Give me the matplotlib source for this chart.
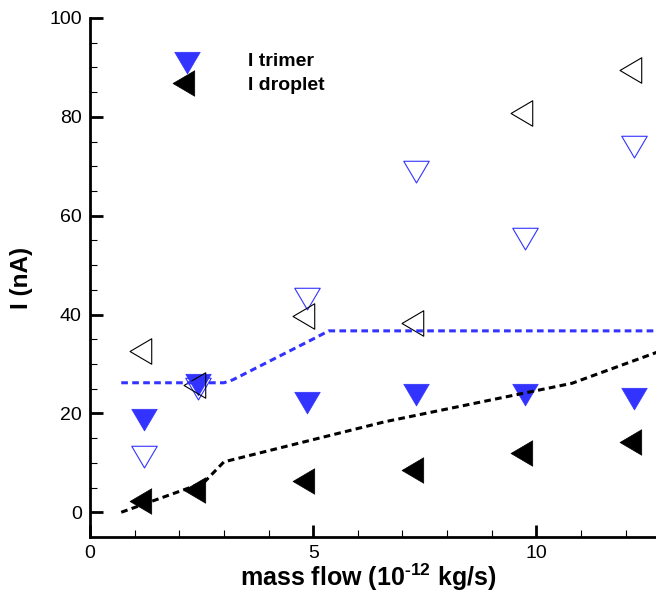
import matplotlib

matplotlib.use("Agg")

import matplotlib.pyplot as plt
from matplotlib.lines import Line2D
from matplotlib.path import Path
from matplotlib.ticker import MultipleLocator

plt.rcParams["font.family"] = ["Liberation Sans", "DejaVu Sans"]
plt.rcParams["mathtext.default"] = "regular"
plt.rcParams["lines.scale_dashes"] = False

BLUE = "#3333ff"

# measured points (x in 1e-12 kg/s, y in nA)
mass_flow = [1.2, 2.42, 4.86, 7.3, 9.74, 12.18]
trimer_filled = [19.5, 26.5, 23.0, 24.6, 24.6, 23.7]
trimer_open = [11.9, 25.8, 43.9, 69.7, 56.1, 74.7]
droplet_filled = [2.3, 4.5, 6.3, 8.6, 11.9, 14.2]
droplet_open = [32.6, 25.8, 39.7, 38.3, 80.7, 89.5]

# model curves
trimer_fit_x = [0.7, 3.0, 3.2, 4.9, 5.35, 12.8]
trimer_fit_y = [26.2, 26.2, 26.8, 34.6, 36.7, 36.7]
droplet_fit_x = [0.7, 2.55, 3.0, 6.6, 10.8, 12.8]
droplet_fit_y = [0.0, 6.0, 10.2, 18.3, 26.1, 32.7]

legend_labels = ["I trimer", "I droplet"]


def centroid_triangle(direction: str) -> Path:
    # triangle centred on its centroid, like the original plotting package
    w, h = 1.0, 0.85
    if direction == "down":
        verts = [(-w / 2, h / 3), (w / 2, h / 3), (0, -2 * h / 3), (-w / 2, h / 3)]
    else:
        verts = [(-2 * h / 3, 0), (h / 3, w / 2), (h / 3, -w / 2), (-2 * h / 3, 0)]
    return Path(verts, [Path.MOVETO, Path.LINETO, Path.LINETO, Path.CLOSEPOLY])


TRI_DOWN = centroid_triangle("down")
TRI_LEFT = centroid_triangle("left")
MS = 20.8

fig = plt.figure(figsize=(6.56, 5.94), dpi=100)
ax = fig.add_axes([0.1372, 0.0960, 0.8628, 0.8737])

ax.plot(mass_flow, trimer_filled, ls="none", marker=TRI_DOWN, ms=MS, mfc=BLUE, mec=BLUE, mew=0.5, zorder=3)
ax.plot(mass_flow, droplet_filled, ls="none", marker=TRI_LEFT, ms=MS, mfc="black", mec="black", mew=0.5, zorder=3)
ax.plot(mass_flow, trimer_open, ls="none", marker=TRI_DOWN, ms=MS, mfc="none", mec=BLUE, mew=0.8, zorder=3)
ax.plot(mass_flow, droplet_open, ls="none", marker=TRI_LEFT, ms=MS, mfc="none", mec="black", mew=0.8, zorder=3)

ax.plot(trimer_fit_x, trimer_fit_y, color=BLUE, lw=2.2, dashes=(4.8, 3.1), zorder=4)
ax.plot(droplet_fit_x, droplet_fit_y, color="black", lw=2.2, dashes=(4.8, 3.1), zorder=4)

ax.set_xlim(0, 12.68)
ax.set_ylim(-5, 100)
ax.xaxis.set_major_locator(MultipleLocator(5))
ax.xaxis.set_minor_locator(MultipleLocator(1))
ax.yaxis.set_major_locator(MultipleLocator(20))
ax.yaxis.set_minor_locator(MultipleLocator(5))

for side in ("top", "right"):
    ax.spines[side].set_visible(False)
for side in ("left", "bottom"):
    ax.spines[side].set_linewidth(2)

ax.tick_params(which="major", direction="in", length=9, width=2, labelsize=14, pad=6)
ax.tick_params(which="minor", direction="in", length=5, width=0.8)

ax.set_xlabel("mass flow (10$^{\u201012}$ kg/s)", fontsize=18, fontweight="bold")
ax.set_ylabel("I (nA)", fontsize=17.5, fontweight="bold")
ax.xaxis.set_label_coords(0.491, -0.048)
ax.yaxis.set_label_coords(-0.100, 0.5)

handles = [
    Line2D([], [], ls="none", marker=TRI_DOWN, ms=MS, mfc=BLUE, mec=BLUE, mew=0.5),
    Line2D([], [], ls="none", marker=TRI_LEFT, ms=MS, mfc="black", mec="black", mew=0.5),
]
leg = ax.legend(
    handles,
    legend_labels,
    loc="upper left",
    bbox_to_anchor=(0.155, 0.934),
    frameon=False,
    borderpad=0,
    borderaxespad=0,
    handlelength=1.0,
    handletextpad=2.6,
    labelspacing=0.35,
    prop={"size": 14, "weight": "bold"},
)

fig.savefig("out.png", dpi=100)
